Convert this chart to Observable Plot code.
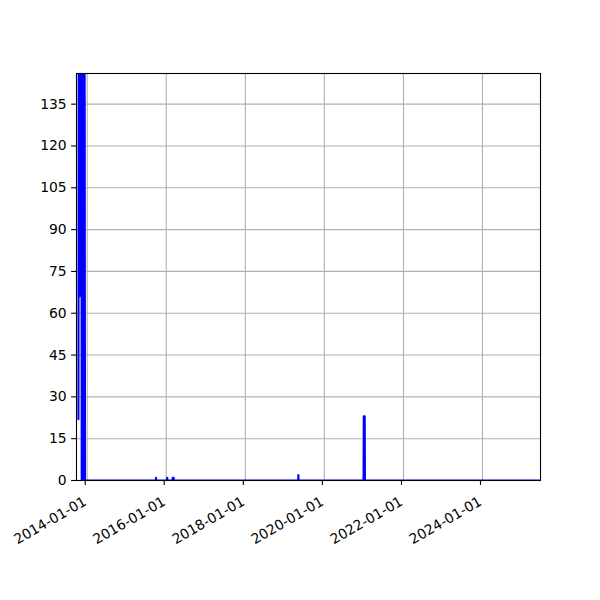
<!DOCTYPE html>
<html>
<head>
<meta charset="utf-8">
<script src="https://cdn.jsdelivr.net/npm/d3@7"></script>
<script src="https://cdn.jsdelivr.net/npm/@observablehq/plot@0.6"></script>
<style>
  html, body { margin: 0; padding: 0; background: #fff; }
  #chart { width: 600px; height: 600px; }
</style>
</head>
<body>
<div id="chart"></div>
<script>
// Series: dates and counts
const dates = [
  "2013-10-12","2013-10-16","2013-10-22","2013-10-27","2013-10-31","2013-11-04",
  "2013-11-08","2013-11-11","2013-11-14","2013-11-17","2013-11-20","2013-11-24",
  "2013-11-27","2013-12-01","2013-12-04","2013-12-08","2013-12-12","2013-12-14",
  "2015-09-27","2015-09-29","2015-10-01",
  "2016-01-08","2016-01-10","2016-01-12",
  "2016-02-28","2016-03-01","2016-03-03","2016-03-08","2016-03-10","2016-03-12",
  "2019-05-04","2019-05-06","2019-05-08",
  "2020-12-28","2020-12-30","2021-01-08","2021-01-10",
  "2025-06-30"
];
const values = [
  22, 250, 66, 220, 180, 125,
  230, 0, 200, 1, 190, 0,
  180, 0, 210, 160, 0, 0,
  0, 1, 0,
  0, 1, 0,
  0, 1, 0, 0, 1, 0,
  0, 2, 0,
  0, 23, 23, 0,
  0
];
const xTickLabels = ["2014-01-01","2016-01-01","2018-01-01","2020-01-01","2022-01-01","2024-01-01"];
const yTicks = [0, 15, 30, 45, 60, 75, 90, 105, 120, 135];
const xDomain = ["2013-09-24", "2025-06-20"];
const yDomain = [0, 146];

const parse = d3.utcParse("%Y-%m-%d");
const data = dates.map((d, i) => ({date: parse(d), value: values[i]}));
const xTicks = xTickLabels.map(parse);

const chart = Plot.plot({
  width: 600,
  height: 600,
  marginLeft: 76,
  marginRight: 60,
  marginTop: 73,
  marginBottom: 120,
  style: {fontFamily: "DejaVu Sans", fontSize: "13.9px", background: "#fff", color: "#000"},
  x: {type: "utc", domain: xDomain.map(parse)},
  y: {domain: yDomain},
  marks: [
    Plot.gridX(xTicks, {stroke: "#b0b0b0", strokeOpacity: 1, strokeWidth: 1.1}),
    Plot.gridY(yTicks, {stroke: "#b0b0b0", strokeOpacity: 1, strokeWidth: 1.1}),
    Plot.line(data, {x: "date", y: "value", stroke: "#0000ff", strokeWidth: 2.08, clip: true}),
    Plot.frame({stroke: "#000", strokeWidth: 1.1}),
    Plot.axisY(yTicks, {tickSize: 4.9, tickPadding: 4.9, strokeWidth: 1.1, label: null, fontSize: 13.9}),
    Plot.axisX(xTicks, {
      tickSize: 4.9, strokeWidth: 1.1, label: null, fontSize: 13.9,
      tickFormat: d3.utcFormat("%Y-%m-%d"),
      tickRotate: -30, textAnchor: "end", lineAnchor: "middle",
      tickPadding: 15, dx: -2
    })
  ]
});
document.getElementById("chart").appendChild(chart);
</script>
</body>
</html>
